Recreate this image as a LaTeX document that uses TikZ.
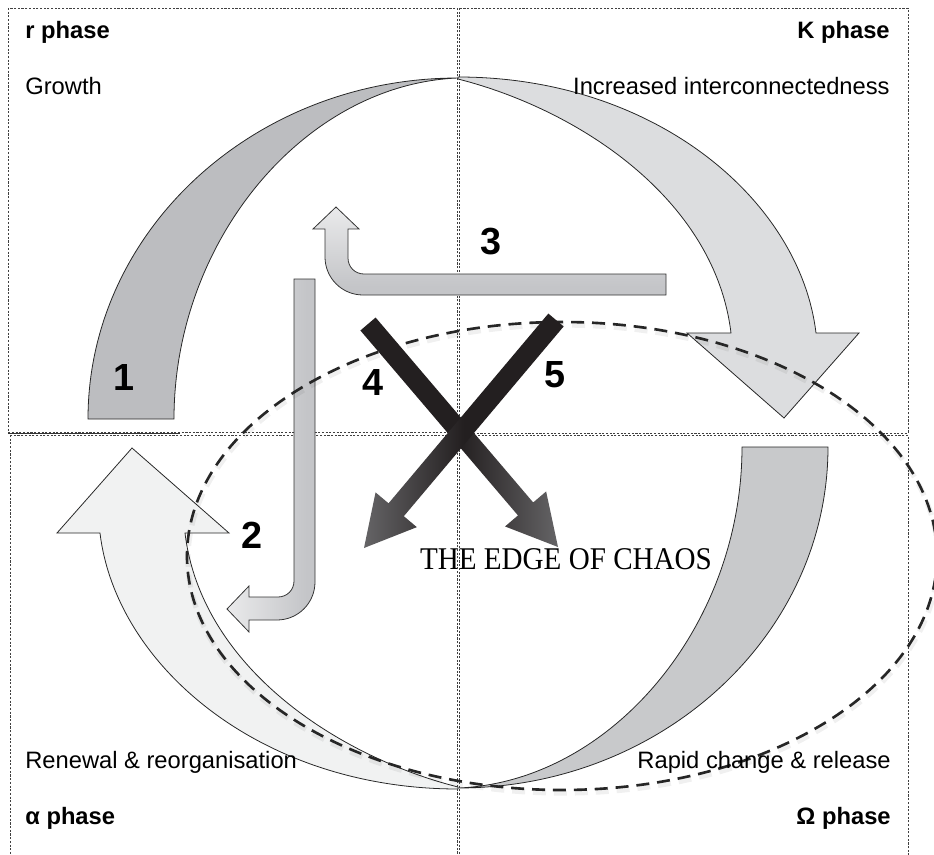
\documentclass[tikz,border=0pt]{standalone}
\usepackage{fontspec}
\newfontfamily\labelfont{Liberation Sans}
\newfontfamily\chaosfont[FakeStretch=0.92]{Liberation Serif}
\usetikzlibrary{calc}

\definecolor{growthgray}{HTML}{BCBDC0}
\definecolor{conservegray}{HTML}{DCDDDF}
\definecolor{releasegray}{HTML}{C8C9CB}
\definecolor{renewgray}{HTML}{F1F2F2}
\definecolor{elbowgray}{HTML}{C4C5C8}
\definecolor{crossdark}{HTML}{231F20}
\definecolor{crosslight}{HTML}{A7A9AC}

\pgfdeclarehorizontalshading{crossfade}{100bp}{color(0bp)=(crossdark); color(50bp)=(crossdark); color(100bp)=(crosslight)}
\pgfdeclareverticalshading{elbowfade}{100bp}{color(0bp)=(elbowgray); color(30bp)=(elbowgray); color(100bp)=(white)}

\begin{document}
\begin{tikzpicture}[
    x=0.02cm, y=-0.02cm,
    quadrant/.style={draw=black!75, line width=0.5pt, dash pattern=on 1.2pt off 0.9pt},
    loop/.style={draw=black!85, line width=0.45pt, line join=miter},
    elbow/.style={draw=black!80, line width=0.45pt, shading=elbowfade},
    chaosrim/.style={dash pattern=on 7.4pt off 4.5pt, line width=1.5pt},
    phase/.style={font=\labelfont\bfseries\fontsize{13.5}{16}\selectfont, inner sep=0pt},
    stage/.style={font=\labelfont\fontsize{13.5}{16}\selectfont, inner sep=0pt},
    num/.style={font=\labelfont\bfseries\fontsize{21.5}{24}\selectfont, inner sep=0pt, anchor=base},
    chaos/.style={font=\chaosfont\fontsize{18}{20}\selectfont, inner sep=0pt, anchor=base},
]
\useasboundingbox (0,0) rectangle (934,855);

% ---- the edge of chaos title ----
\node[chaos] (chaos) at (566,569) {THE EDGE OF CHAOS};

% ---- four phase quadrants ----
\draw[quadrant] (8,8) rectangle (457,432);
\draw[quadrant] (459,8) rectangle (908,433);
\draw[quadrant] (10,435) rectangle (457,858);
\draw[quadrant] (459,435) rectangle (908,858);
\draw[black!80, line width=0.5pt] (8,433) -- (180,433);

% ---- adaptive cycle loop ----
\path[loop, fill=growthgray]
  (88,419) .. controls (88,231) and (254,78) .. (458,78)
  .. controls (305,84) and (174,240) .. (174,419) -- cycle;
\path[loop, fill=conservegray]
  (458,77) .. controls (655,77) and (800,200) .. (816,333)
  -- (859,333) -- (784,418) -- (687,333) -- (731,333)
  .. controls (715,200) and (580,110) .. (458,79) -- cycle;
\path[loop, fill=releasegray]
  (828,447) .. controls (828,635) and (662,788) .. (458,788)
  .. controls (611,782) and (742,626) .. (742,447) -- cycle;
\path[loop, fill=renewgray]
  (458,789) .. controls (261,789) and (116,666) .. (100,533)
  -- (57,533) -- (132,448) -- (229,533) -- (185,533)
  .. controls (201,666) and (336,756) .. (458,787) -- cycle;

% ---- elbow arrows 3 and 2 ----
\shade[elbow]
  (666,274) -- (364,274) .. controls (355,274) and (348,267) .. (348,258)
  -- (348,229) -- (359,229) -- (336,207) -- (313,229) -- (325,229)
  -- (325,257) .. controls (325,278) and (342,295) .. (363,295)
  -- (666,295) -- cycle;
\shade[elbow, shading angle=90]
  (294,279) -- (294,581) .. controls (294,590) and (287,597) .. (278,597)
  -- (249,597) -- (249,586) -- (227,609) -- (249,632) -- (249,620)
  -- (277,620) .. controls (298,620) and (315,603) .. (315,582)
  -- (315,279) -- cycle;

% ---- dashed edge of chaos ----
\draw[chaosrim, black, opacity=0.06, line width=3pt] (563,559) ellipse [x radius=375, y radius=234];
\draw[chaosrim, black!85] (562,556) ellipse [x radius=375, y radius=234];

% ---- crossing arrows 4 and 5 ----
\coordinate (fourtop) at (368,324);
\coordinate (fourtip) at (558,547);
\coordinate (fivetop) at (556,320);
\coordinate (fivetip) at (364,548);
\foreach \barstart/\barend/\ang in {fourtop/fourtip/0, fivetop/fivetip/180} {
  \coordinate (headbase) at ($(\barend)!1cm!(\barstart)$);
  \shade[shading=crossfade, shading angle=\ang]
    ($(\barstart)!0.2cm!90:(\barend)$) -- ($(headbase)!0.2cm!90:(\barend)$)
    -- ($(headbase)!0.54cm!90:(\barend)$) -- (\barend)
    -- ($(headbase)!0.54cm!-90:(\barend)$) -- ($(headbase)!0.2cm!-90:(\barend)$)
    -- ($(\barstart)!0.2cm!-90:(\barend)$) -- cycle;
}

% ---- phase labels ----
\node[phase, anchor=base west] (rphase) at (25,39) {r phase};
\node[stage, anchor=base west] (growth) at (25,95) {Growth};
\node[phase, anchor=base east] (kphase) at (890,39) {K phase};
\node[stage, anchor=base east] (interconn) at (890,95) {Increased interconnectedness};
\node[stage, anchor=base west] (renewal) at (25,768) {Renewal \& reorganisation};
\node[phase, anchor=base west] (aphase) at (25,824) {α phase};
\node[stage, anchor=base east] (release) at (891,768) {Rapid change \& release};
\node[phase, anchor=base east] (ophase) at (891,824) {Ω phase};

% ---- numbered transitions ----
\node[num] (one) at (124,390) {1};
\node[num] (two) at (252,548) {2};
\node[num] (three) at (491,255) {3};
\node[num] (four) at (373,395) {4};
\node[num] (five) at (555,387) {5};

\end{tikzpicture}
\end{document}
